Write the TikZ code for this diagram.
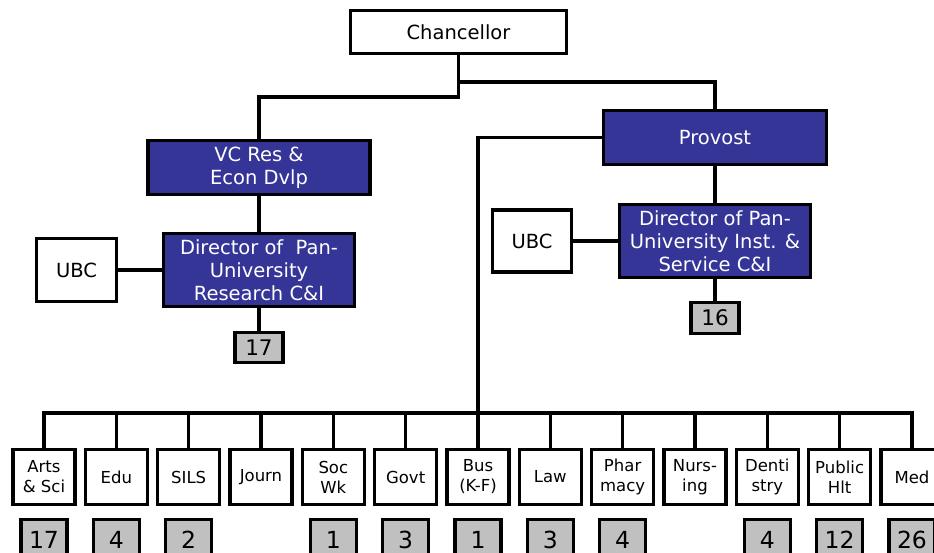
\documentclass[tikz,border=0pt]{standalone}
\usepackage{fontspec}
\setmainfont{DejaVu Sans}
\definecolor{unitblue}{RGB}{53,53,152}
\definecolor{countgray}{RGB}{192,192,192}
\tikzset{
  orgbox/.style={draw=black, line width=3.1pt, fill=white, inner sep=0pt, align=center,
    font=\fontsize{19.5}{23}\selectfont},
  officebox/.style={orgbox, fill=unitblue, text=white},
  deptbox/.style={orgbox, minimum width=62pt, minimum height=55pt,
    font=\fontsize{16.5}{20}\selectfont},
  countbox/.style={orgbox, fill=countgray, font=\fontsize{21.5}{24}\selectfont},
  deptcount/.style={countbox, minimum width=46pt, minimum height=40pt,
    font=\fontsize{23.5}{26}\selectfont},
  link/.style={line width=3.1pt}
}
\begin{document}
\begin{tikzpicture}[x=1pt, y=-1pt]
\useasboundingbox (0,0) rectangle (934,552);

% top of the hierarchy
\node[orgbox, minimum width=216pt, minimum height=43pt] (chan) at (458.5,32) {Chancellor};
\node[officebox, minimum width=223pt, minimum height=54pt] (prov) at (715,137.5) {Provost};
\node[officebox, minimum width=222pt, minimum height=54pt] (vc) at (259,167.5) {VC Res \&\\Econ Dvlp};

% research branch
\node[officebox, minimum width=191pt, minimum height=73pt] (dirL) at (259,270) {Director of\ \ Pan-\\University\\Research C\&I};
\node[orgbox, minimum width=80pt, minimum height=63pt] (ubcL) at (76.5,270) {UBC};
\node[countbox, minimum width=48pt, minimum height=30pt] (cL) at (259,347.5) {17};

% institutes and services branch
\node[officebox, minimum width=191pt, minimum height=73pt] (dirR) at (715,241) {Director of Pan-\\University Inst. \&\\Service C\&I};
\node[orgbox, minimum width=79pt, minimum height=62pt] (ubcR) at (532,241) {UBC};
\node[countbox, minimum width=48pt, minimum height=31pt] (cR) at (715,318) {16};

% schools and their counts
\foreach \i/\lab/\cnt in {0/Arts\\\& Sci/17, 1/Edu/4, 2/SILS/2, 3/Journ/, 4/Soc\\Wk/1,
    5/Govt/3, 6/Bus\\(K-F)/1, 7/Law/3, 8/Phar\\macy/4, 9/Nurs-\\ing/,
    10/Denti\\stry/4, 11/Public\\Hlt/12, 12/Med/26} {
  \node[deptbox] (d\i) at ({44+72.33*\i},477) {\lab};
  \ifx\cnt\empty\else
    \node[deptcount] (n\i) at ({44+72.33*\i},539.5) {\cnt};
  \fi
}

% connectors
\draw[link] (chan.south) -- (chan.south |- 0,97) -| (vc.north);
\draw[link] (chan.south |- 0,82) -| (prov.north);
\draw[link] (vc.south) -- (dirL.north);
\draw[link] (dirL.west) -- (ubcL.east);
\draw[link] (dirL.south) -- (cL.north);
\draw[link] (prov.south) -- (dirR.north);
\draw[link] (dirR.west) -- (ubcR.east);
\draw[link] (dirR.south) -- (cR.north);
\draw[link] (prov.west) -| (d6.north);
\draw[link] (d0.north) -- (d0.north |- 0,413) -- (d12.north |- 0,413) -- (d12.north);
\foreach \i in {1,...,11} {
  \draw[link] (d\i.north) -- (d\i.north |- 0,413);
}
\end{tikzpicture}
\end{document}
